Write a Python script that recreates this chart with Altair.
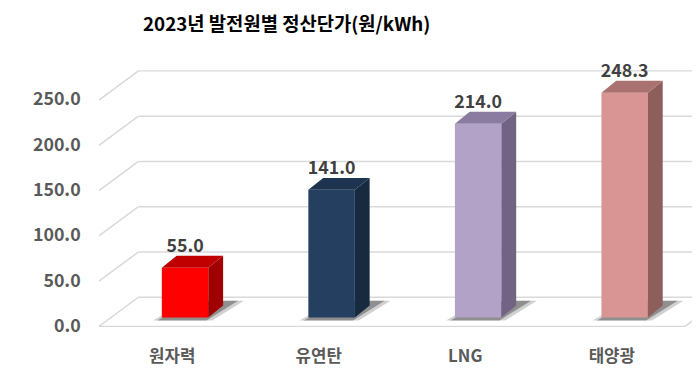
import altair as alt
import pandas as pd

# ---- data ----
categories = ["원자력", "유연탄", "LNG", "태양광"]
values = [55.0, 141.0, 214.0, 248.3]
front_colors = ["#FF0000", "#243F60", "#B3A2C7", "#D99594"]
side_colors = ["#A00000", "#182A40", "#716383", "#8E5E5D"]
top_colors = ["#C00000", "#1E3350", "#8A7CA0", "#A97271"]
tick_values = [0, 50, 100, 150, 200, 250]
title_text = "2023년 발전원별 정산단가(원/kWh)"

# ---- geometry (pseudo-3D projection in data units) ----
PX_X = 148.25          # pixels per category step
PX_Y = 0.916           # pixels per value unit
W, H = 600, 310
X0 = -0.5
X1 = X0 + W / PX_X
Y1 = 270 / PX_Y
Y0 = Y1 - H / PX_Y
BACK_DX, BACK_DY = 40 / PX_X, 29.5 / PX_Y
BAR_OFF_X, BAR_OFF_Y = 13 / PX_X, 9 / PX_Y
HALF_W = 23.5 / PX_X
DEPTH_X, DEPTH_Y = 15 / PX_X, 12 / PX_Y
FONT = "Noto Sans CJK KR"

xscale = alt.Scale(domain=[X0, X1], nice=False, zero=False)
yscale = alt.Scale(domain=[Y0, Y1], nice=False, zero=False)
yaxis = alt.Axis(values=tick_values, format=".1f", title=None, grid=False,
                 domain=False, ticks=False, labelPadding=19, labelFont=FONT,
                 labelFontSize=18, labelFontWeight="bold", labelColor="#595959")


def X(f):
    return alt.X(f + ":Q", scale=xscale, axis=None)


def Y(f):
    return alt.Y(f + ":Q", scale=yscale, axis=yaxis)


# ---- tables built from the arrays ----
front_rows, side_rows, top_rows, shadow_rows, label_rows = [], [], [], [], []
for i, (c, v) in enumerate(zip(categories, values)):
    xl = i + BAR_OFF_X - HALF_W
    xr = i + BAR_OFF_X + HALF_W
    yb = BAR_OFF_Y
    yt = BAR_OFF_Y + v
    front_rows.append(dict(xl=xl, xr=xr, yb=yb, yt=yt, col=front_colors[i]))
    for t in (0, 1):
        side_rows.append(dict(x=xr + DEPTH_X * t, y=yb + DEPTH_Y * t,
                              y2=yt + DEPTH_Y * t, col=side_colors[i]))
        top_rows.append(dict(y=yt + DEPTH_Y * t, x=xl + DEPTH_X * t,
                             x2=xr + DEPTH_X * t, col=top_colors[i]))
    shadow_rows.append(dict(k=i, y=yb - 3 / PX_Y, x=xl - 9 / PX_X, x2=xr + 4 / PX_X))
    shadow_rows.append(dict(k=i, y=yb + 17 / PX_Y, x=xl + 26 / PX_X, x2=xr + 36 / PX_X))
    label_rows.append(dict(x=i + BAR_OFF_X, y=yt + DEPTH_Y, v=v, cat=c, cx=i,
                           cy=-31 / PX_Y))

front = pd.DataFrame(front_rows)
side = pd.DataFrame(side_rows)
top = pd.DataFrame(top_rows)
shadow = pd.DataFrame(shadow_rows)
labels = pd.DataFrame(label_rows)

back_grid = pd.DataFrame(dict(v=[t + BACK_DY for t in tick_values],
                              x=[X0 + BACK_DX] * len(tick_values),
                              x2=[X1] * len(tick_values)))
diag_grid = pd.DataFrame(dict(x=[X0] * len(tick_values),
                              x2=[X0 + BACK_DX] * len(tick_values),
                              y=tick_values,
                              y2=[t + BACK_DY for t in tick_values]))
floor = pd.DataFrame(dict(x=[X0, X0 + len(categories)], x2=[X0 + len(categories), X0 + len(categories) + BACK_DX],
                          y=[0, 0], y2=[0, BACK_DY]))

GRID = "#D9D9D9"

l_back = alt.Chart(back_grid).mark_rule(color=GRID, strokeWidth=1.5).encode(
    x=X("x"), x2="x2", y=Y("v"))
l_diag = alt.Chart(diag_grid).mark_rule(color=GRID, strokeWidth=1.5).encode(
    x=X("x"), x2="x2", y=Y("y"), y2="y2")
l_floor = alt.Chart(floor).mark_rule(color=GRID, strokeWidth=1.5, clip=True).encode(
    x=X("x"), x2="x2", y=Y("y"), y2="y2")

l_shadow_outer = alt.Chart(shadow).mark_area(orient="horizontal", color="#777777",
                                              opacity=0.35).encode(
    y=Y("y"), x=X("x"), x2="x2", detail="k:N")
l_shadow_inner = alt.Chart(shadow).transform_calculate(
    xi="datum.x + 0.03", x2i="datum.x2 - 0.04").mark_area(
    orient="horizontal", color="#404040", opacity=0.45).encode(
    y=Y("y"), x=X("xi"), x2="x2i", detail="k:N")

l_front = alt.Chart(front).mark_rect().encode(
    x=X("xl"), x2="xr", y=Y("yb"), y2="yt",
    color=alt.Color("col:N", scale=None))
l_side = alt.Chart(side).mark_area().encode(
    x=X("x"), y=Y("y"), y2="y2", color=alt.Color("col:N", scale=None))
l_top = alt.Chart(top).mark_area(orient="horizontal").encode(
    y=Y("y"), x=X("x"), x2="x2", color=alt.Color("col:N", scale=None))

l_vals = alt.Chart(labels).mark_text(font=FONT, fontSize=18, fontWeight="bold",
                                     color="#404040", baseline="alphabetic",
                                     dy=-4).encode(
    x=X("x"), y=Y("y"), text=alt.Text("v:Q", format=".1f"))
l_cats = alt.Chart(labels).mark_text(font=FONT, fontSize=17, fontWeight="bold",
                                     color="#595959", baseline="middle").encode(
    x=X("cx"), y=Y("cy"), text="cat:N")

chart = alt.layer(
    l_back, l_diag, l_floor, l_shadow_outer, l_shadow_inner,
    l_front, l_side, l_top, l_vals, l_cats
).properties(
    width=W, height=H,
    autosize=alt.AutoSizeParams(type="none"),
    padding={"left": 92, "top": 50, "right": 0, "bottom": 0},
    title=alt.TitleParams(title_text, font=FONT, fontSize=19, fontWeight="bold",
                          color="#000000", anchor="middle", dx=-110, offset=25),
).configure_view(stroke=None)

chart.save("out.html", embed_options={"renderer": "svg", "actions": False})
